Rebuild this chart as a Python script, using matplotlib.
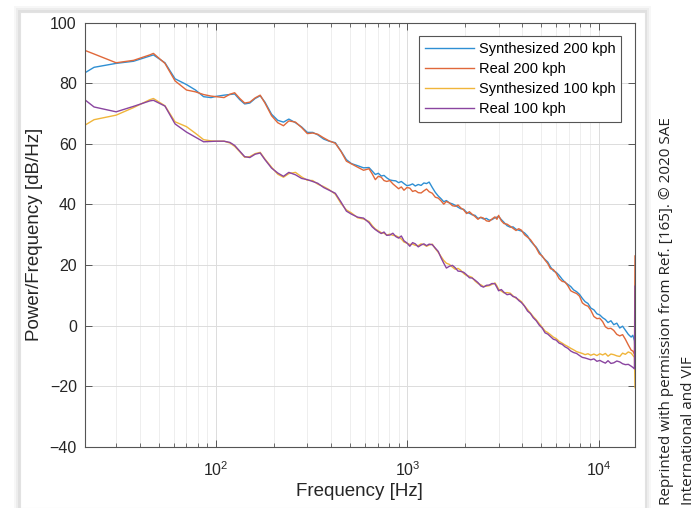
import numpy as np
import matplotlib
matplotlib.use("Agg")
import matplotlib.pyplot as plt
from matplotlib.patches import Rectangle
from matplotlib.ticker import LogLocator, NullLocator, FixedLocator

plt.rcParams["font.family"] = ["Liberation Sans", "DejaVu Sans"]

# frequency points (Hz)
freq = [20, 23, 30, 37, 45, 47, 54, 61, 70, 78,
        86, 94, 100, 110, 118, 125, 133, 141, 150, 160,
        170, 180, 195, 210, 225, 240, 260, 280, 300, 320,
        340, 365, 390, 420, 450, 480, 510, 550, 590, 630,
        655, 680, 705, 730, 755, 780, 810, 840, 870, 900,
        930, 960, 995, 1030, 1065, 1100, 1140, 1180, 1220, 1260,
        1300, 1350, 1400, 1450, 1500, 1550, 1600, 1660, 1720, 1780,
        1840, 1900, 1970, 2040, 2110, 2180, 2260, 2340, 2420, 2500,
        2590, 2680, 2770, 2870, 2940, 3000, 3100, 3200, 3320, 3450,
        3570, 3700, 3820, 3950, 4100, 4250, 4400, 4550, 4720, 4900,
        5070, 5250, 5420, 5600, 5800, 6000, 6220, 6450, 6670, 6900,
        7150, 7400, 7670, 7950, 8220, 8500, 8800, 9100, 9450, 9800,
        10150, 10500, 10850, 11200, 11600, 12000, 12450, 12900, 13350, 13800,
        14300, 14800, 15100, 15400, 15500]

synth_200 = [83.0, 85.3, 86.6, 87.3, 89.0, 89.4, 86.8, 81.5, 79.6, 77.8,
             75.6, 75.3, 75.7, 76.1, 76.3, 76.5, 74.6, 73.2, 73.5, 75.0,
             75.9, 73.8, 69.8, 67.8, 67.2, 68.2, 67.0, 65.6, 63.8, 63.8,
             63.0, 61.6, 60.9, 60.4, 57.6, 54.8, 53.5, 52.8, 52.1, 52.2,
             51.0, 49.9, 50.3, 49.4, 49.6, 48.8, 48.1, 47.9, 47.8, 47.2,
             47.6, 46.9, 46.2, 46.4, 46.8, 46.1, 46.6, 46.3, 47.1, 46.9,
             47.4, 45.6, 44.0, 42.8, 41.9, 40.9, 41.3, 40.5, 40.2, 39.7,
             39.1, 38.6, 38.4, 37.4, 37.1, 36.6, 36.4, 35.4, 35.7, 35.2,
             35.4, 34.8, 35.0, 35.6, 35.8, 36.0, 35.0, 34.1, 33.0, 32.5,
             32.6, 31.8, 31.5, 31.2, 30.6, 29.6, 28.0, 26.9, 25.9, 24.3,
             22.8, 21.8, 21.0, 19.4, 18.1, 17.6, 16.6, 15.3, 14.3, 13.6,
             12.9, 11.8, 11.2, 10.3, 9.0, 7.9, 7.3, 5.8, 5.2, 3.9,
             3.5, 2.6, 2.0, 1.0, 1.6, 0.3, 0.8, -0.8, -0.2, -1.5,
             -2.9, -3.8, -3.2, -5.0, -8.5]

real_200 = [91.2, 89.7, 86.8, 87.6, 89.4, 89.9, 86.6, 80.8, 77.8, 77.2,
            76.3, 75.8, 75.6, 75.3, 76.4, 76.9, 75.0, 73.5, 73.8, 75.2,
            76.1, 73.5, 69.3, 67.0, 66.0, 67.6, 67.2, 65.4, 63.4, 63.6,
            63.2, 62.0, 61.0, 60.2, 57.5, 54.3, 53.4, 52.3, 51.3, 51.8,
            50.1, 48.2, 49.3, 49.0, 47.9, 47.6, 47.9, 46.8, 46.0, 45.2,
            45.8, 44.7, 45.6, 45.4, 44.3, 44.6, 43.9, 43.8, 44.5, 45.1,
            44.2, 43.7, 42.4, 42.1, 41.2, 40.1, 41.0, 40.5, 39.6, 39.4,
            39.8, 38.9, 38.2, 37.0, 37.6, 36.8, 36.0, 35.1, 35.8, 35.5,
            34.6, 34.4, 35.2, 35.9, 35.1, 36.4, 34.6, 33.7, 33.5, 32.8,
            32.1, 31.4, 32.0, 31.5, 30.0, 29.2, 28.4, 27.1, 25.6, 23.7,
            23.0, 21.6, 20.5, 18.8, 18.5, 17.3, 15.5, 14.6, 14.4, 13.2,
            11.5, 11.0, 10.6, 9.7, 7.5, 6.8, 6.4, 5.1, 3.0, 2.3,
            2.4, 1.3, -0.4, -1.0, -0.9, -1.6, -2.9, -3.4, -3.0, -4.5,
            -6.4, -8.1, -8.4, -9.5, 23.0]

synth_100 = [65.7, 68.0, 69.5, 72.0, 74.6, 75.0, 72.6, 67.3, 65.7, 63.5,
             61.4, 61.0, 60.9, 60.9, 60.3, 59.2, 57.4, 55.6, 55.8, 56.8,
             57.2, 55.0, 52.3, 50.0, 49.0, 50.2, 50.6, 49.1, 48.0, 47.9,
             46.7, 45.9, 44.9, 43.4, 40.3, 38.2, 37.2, 35.6, 35.2, 34.4,
             33.0, 31.9, 31.3, 30.7, 30.5, 29.9, 30.2, 29.8, 29.7, 29.2,
             28.6, 27.6, 27.2, 26.8, 26.9, 26.5, 26.4, 27.0, 26.7, 26.2,
             26.6, 26.9, 25.4, 24.2, 22.8, 21.5, 20.6, 20.2, 19.3, 18.6,
             18.9, 18.3, 17.2, 16.5, 16.3, 15.9, 14.7, 13.9, 13.5, 12.9,
             13.0, 13.2, 13.6, 14.1, 13.1, 12.0, 11.4, 10.8, 10.9, 10.7,
             9.8, 9.0, 8.6, 7.9, 6.5, 5.3, 4.1, 3.0, 1.9, 0.6,
             -0.6, -1.8, -2.3, -3.0, -3.8, -4.3, -5.2, -5.8, -6.4, -6.9,
             -7.5, -8.0, -8.6, -8.9, -9.2, -9.6, -9.3, -9.8, -9.4, -9.9,
             -9.3, -9.7, -9.2, -10.1, -9.4, -9.6, -10.0, -10.2, -9.1, -9.5,
             -8.7, -9.1, -9.8, -10.5, -20.5]

real_100 = [75.2, 72.2, 70.6, 72.4, 74.2, 74.4, 72.5, 66.6, 63.9, 62.2,
            60.7, 60.8, 60.9, 60.9, 60.5, 59.5, 57.6, 55.8, 55.5, 56.6,
            57.0, 54.8, 52.0, 50.4, 49.3, 50.6, 49.8, 48.6, 48.2, 47.6,
            47.0, 45.6, 44.7, 43.7, 40.8, 37.8, 36.8, 35.8, 35.5, 34.0,
            32.6, 31.7, 31.0, 30.4, 30.9, 29.8, 29.9, 30.5, 29.4, 28.9,
            29.6, 28.0, 27.3, 26.2, 27.4, 27.0, 26.0, 26.6, 27.0, 26.4,
            26.9, 26.7, 25.6, 24.5, 22.4, 20.6, 19.0, 19.6, 19.9, 19.1,
            18.0, 17.9, 17.6, 16.8, 15.8, 15.7, 15.0, 14.2, 13.1, 12.7,
            13.3, 13.4, 13.9, 13.8, 12.6, 11.5, 11.9, 11.0, 10.2, 10.4,
            9.6, 9.3, 8.3, 7.6, 6.4, 4.8, 4.0, 2.6, 1.6, 0.1,
            -0.8, -2.4, -2.8, -3.6, -4.5, -4.8, -5.8, -6.2, -7.0, -7.5,
            -8.4, -8.9, -9.2, -9.9, -10.5, -10.7, -11.0, -11.3, -11.0, -11.8,
            -11.5, -12.0, -12.4, -11.6, -12.5, -12.3, -11.7, -12.0, -12.6, -12.9,
            -12.8, -13.4, -13.8, -14.3, 13.0]

labels = ["Synthesized 200 kph", "Real 200 kph", "Synthesized 100 kph", "Real 100 kph"]
colors = ["#2f8fd3", "#e0683a", "#f0b53a", "#8a45a0"]

fig = plt.figure(figsize=(7.0, 5.08), dpi=100)
fig.patch.set_facecolor("white")

# card with a soft shadow behind the chart
for k, a in [(6, 0.03), (4, 0.04), (2, 0.05)]:
    fig.patches.append(Rectangle(((20 - k) / 700, 0), (625 + 2 * k) / 700, (496 + k) / 508,
                                 transform=fig.transFigure, facecolor="black", alpha=a,
                                 edgecolor="none", zorder=-3))
fig.patches.append(Rectangle((20 / 700, 0), 625 / 700, 496 / 508, transform=fig.transFigure,
                             facecolor="white", edgecolor="#e2e2e2", lw=0.8, zorder=-1))

ax = fig.add_axes([84.5 / 700, 61.3 / 508, 550.5 / 700, 423.9 / 508])

for series, lab, col in zip([synth_200, real_200, synth_100, real_100], labels, colors):
    ax.plot(freq, series, color=col, lw=1.0, label=lab)

ax.set_xscale("log")
ax.set_xlim(20.5, 15500)
ax.set_ylim(-40, 100)
ax.yaxis.set_major_locator(FixedLocator(np.arange(-40, 101, 20)))
ax.yaxis.set_minor_locator(NullLocator())
ax.xaxis.set_major_locator(LogLocator(base=10))
ax.xaxis.set_minor_locator(LogLocator(base=10, subs=np.arange(2, 10)))

ax.grid(which="major", color="#dcdcdc", lw=0.7)
ax.grid(which="minor", axis="x", color="#ebebeb", lw=0.6)
ax.set_axisbelow(True)

ax.tick_params(which="both", direction="in", top=True, right=True, color="#555555",
               labelcolor="#262626", labelsize=11.5)
ax.tick_params(which="major", length=5, width=0.7)
ax.tick_params(which="minor", length=3, width=0.6)
ax.tick_params(axis="x", which="major", pad=10)
ax.tick_params(axis="y", which="major", pad=5.5)
for s in ax.spines.values():
    s.set_color("#555555")
    s.set_linewidth(0.8)

ax.set_xlabel("Frequency [Hz]", fontsize=13.5, color="#262626", labelpad=3)
ax.set_ylabel("Power/Frequency [dB/Hz]", fontsize=13.5, color="#262626", labelpad=5)

leg = ax.legend(loc="upper right", bbox_to_anchor=(0.9745, 0.969), borderaxespad=0,
                fontsize=10.5, handlelength=3.4, labelspacing=0.42, fancybox=False,
                framealpha=1, edgecolor="#555555", borderpad=0.4, handletextpad=0.3)
leg.get_frame().set_linewidth(0.8)

fig.text(666 / 700, 3 / 508, "Reprinted with permission from Ref. [165]. \u00a9 2020 SAE",
         rotation=90, rotation_mode="anchor", ha="left", va="center",
         fontsize=11, family=["Open Sans", "DejaVu Sans"], color="#222222")
fig.text(688 / 700, 3 / 508, "International and VIF",
         rotation=90, rotation_mode="anchor", ha="left", va="center",
         fontsize=11, family=["Open Sans", "DejaVu Sans"], color="#222222")

fig.savefig("out.png", dpi=100)
